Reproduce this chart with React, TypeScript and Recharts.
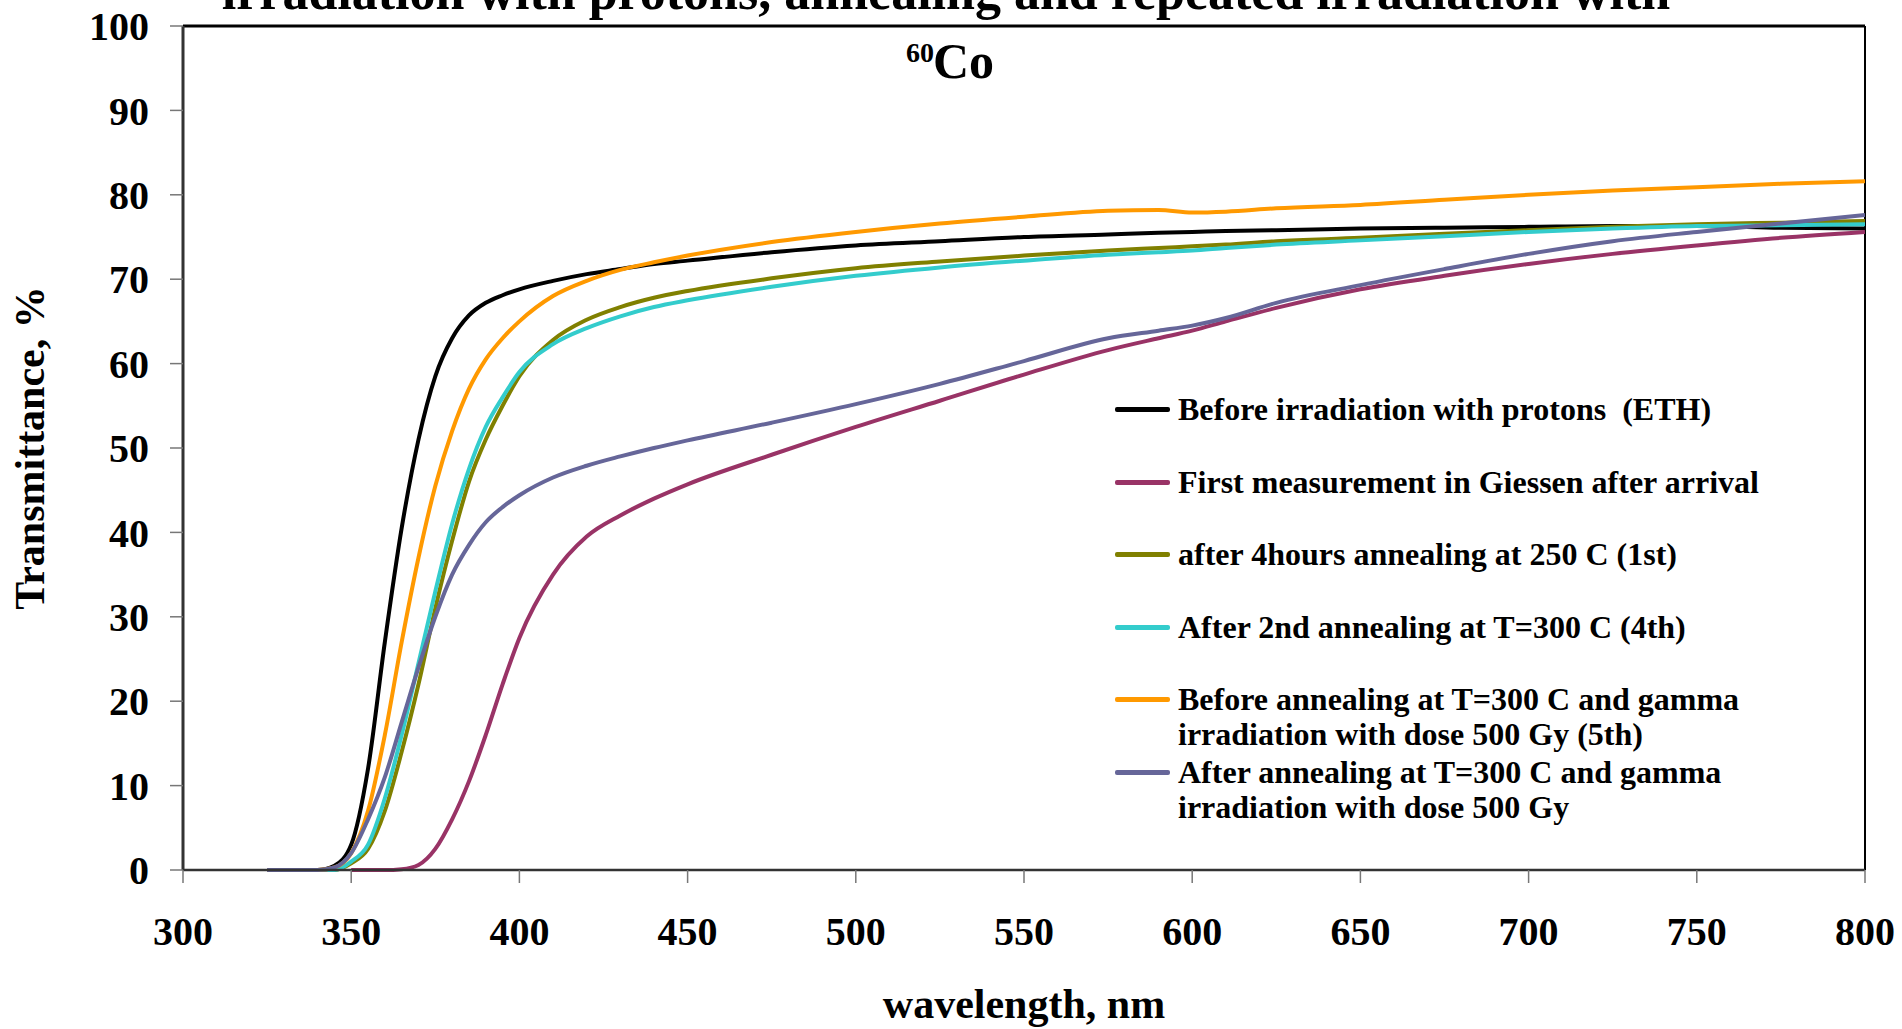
import React from "react";
import { LineChart, Line, XAxis, YAxis, Legend, ReferenceLine } from "recharts";

// wavelength grid, nm
const wavelengths = [
  325, 340, 345, 350, 355, 360, 365, 370, 375, 380, 385, 390, 395, 400, 410,
  420, 430, 440, 450, 475, 500, 525, 550, 575, 590, 600, 610, 625, 650, 675,
  700, 725, 750, 775, 800,
];

// transmittance, %
const beforeProtons = [
  0, 0, 0.5, 3, 12, 27, 40.5, 51, 58.5, 63, 65.7, 67.2, 68.1, 68.8, 69.8,
  70.6, 71.2, 71.8, 72.2, 73.2, 74, 74.5, 75, 75.3, 75.5, 75.6, 75.7, 75.8, 76,
  76.1, 76.2, 76.3, 76.3, 76.1, 76.0,
];
const firstGiessen = [
  null, null, null, 0, 0, 0, 0.1, 0.6, 2.5, 6, 10.5, 16, 22, 27.5, 35, 39.5,
  42, 44, 45.7, 49.2, 52.5, 55.6, 58.7, 61.6, 63, 63.9, 65, 66.6, 68.8, 70.4,
  71.8, 73, 74, 74.9, 75.6,
];
const anneal250 = [
  0, 0, 0, 0.8, 2.5, 7, 14, 22, 31, 39, 46, 51, 55, 58.5, 62.8, 65.2, 66.7,
  67.8, 68.6, 70.1, 71.3, 72.1, 72.8, 73.4, 73.7, 73.9, 74.1, 74.5, 74.9, 75.4,
  75.8, 76.2, 76.5, 76.7, 76.9,
];
const anneal300 = [
  0, 0, 0, 1, 3, 8.5, 16, 24.5, 33, 41, 47.5, 52.5, 56, 59, 62.3, 64.2,
  65.6, 66.7, 67.5, 69.1, 70.4, 71.4, 72.2, 72.9, 73.2, 73.4, 73.7, 74.1, 74.6,
  75.1, 75.6, 76, 76.3, 76.4, 76.5,
];
const beforeGamma = [
  0, 0, 0.3, 2, 7, 16, 27, 37, 45.5, 52, 57, 60.5, 63, 65, 68, 69.8,
  71.1, 72, 72.8, 74.4, 75.6, 76.6, 77.4, 78.1, 78.2, 77.9, 78, 78.4, 78.8,
  79.4, 80, 80.5, 80.9, 81.3, 81.6,
];
const afterGamma = [
  0, 0, 0.3, 2, 6, 11, 17.5, 24, 30, 35, 38.5, 41.2, 43, 44.4, 46.5,
  47.9, 49, 50, 50.9, 53, 55.2, 57.6, 60.3, 63, 63.9, 64.5, 65.4, 67.2,
  69.3, 71.2, 73, 74.5, 75.6, 76.6, 77.6,
];

const xTicks = [300, 350, 400, 450, 500, 550, 600, 650, 700, 750, 800];
const yTicks = [0, 10, 20, 30, 40, 50, 60, 70, 80, 90, 100];

const seriesNames = [
  "Before irradiation with protons  (ETH)",
  "First measurement in Giessen after arrival",
  "after 4hours annealing at 250 C (1st)",
  "After 2nd annealing at T=300 C (4th)",
  "Before annealing at T=300 C and gamma\nirradiation with dose 500 Gy (5th)",
  "After annealing at T=300 C and gamma\nirradiation with dose 500 Gy",
];
const seriesValues = [
  beforeProtons,
  firstGiessen,
  anneal250,
  anneal300,
  beforeGamma,
  afterGamma,
];
const seriesColors = ["#000000", "#993366", "#808000", "#33CCCC", "#FF9900", "#666699"];

const FONT = "'Liberation Serif', 'Times New Roman', serif";

const series = seriesNames.map((name, k) => ({
  name,
  color: seriesColors[k],
  data: wavelengths
    .map((wl, i) => ({ wl, t: seriesValues[k][i] }))
    .filter((p) => p.t !== null),
}));

const renderLegend = (props: any) => {
  // keep the series order, not the alphabetical one
  const items = [...(props.payload || [])].sort(
    (a: any, b: any) => seriesNames.indexOf(a.value) - seriesNames.indexOf(b.value)
  );
  return (
    <div style={{ fontFamily: FONT, fontWeight: "bold", fontSize: 32, color: "#000" }}>
      {items.map((it: any) => (
        <div key={it.value} style={{ display: "flex", alignItems: "flex-start", height: 72.6 }}>
          <div style={{ width: 55, height: 5, marginTop: 15, background: it.color, borderRadius: 2 }} />
          <div style={{ marginLeft: 8, lineHeight: "35px", whiteSpace: "pre", textAlign: "left" }}>
            {it.value}
          </div>
        </div>
      ))}
    </div>
  );
};

export default function App() {
  const tickStyle = { fontSize: 40, fontWeight: "bold", fill: "#000", fontFamily: FONT };
  return (
    <div
      style={{
        position: "absolute",
        left: 0,
        top: 0,
        width: 1902,
        height: 1029,
        background: "#fff",
        overflow: "hidden",
      }}
    >
      <LineChart width={1902} height={1029} margin={{ top: 26, right: 37, bottom: 99, left: 83 }}>
        <XAxis
          dataKey="wl"
          type="number"
          domain={[300, 800]}
          ticks={xTicks}
          allowDataOverflow
          height={60}
          tickSize={13}
          tickMargin={34}
          tick={tickStyle}
          axisLine={{ stroke: "#333", strokeWidth: 2.5 }}
          tickLine={{ stroke: "#777", strokeWidth: 1.5 }}
          label={(p: any) => (
            <text
              x={p.viewBox.x + p.viewBox.width / 2}
              y={1018}
              textAnchor="middle"
              fontFamily={FONT}
              fontWeight="bold"
              fontSize={42}
              fill="#000"
            >
              wavelength, nm
            </text>
          )}
        />
        <YAxis
          type="number"
          domain={[0, 100]}
          ticks={yTicks}
          width={100}
          tickSize={13}
          tickMargin={21}
          tick={tickStyle}
          axisLine={{ stroke: "#333", strokeWidth: 3 }}
          tickLine={{ stroke: "#777", strokeWidth: 1.5 }}
          label={(p: any) => (
            <text
              x={30}
              y={p.viewBox.y + p.viewBox.height / 2}
              transform={`rotate(-90, 30, ${p.viewBox.y + p.viewBox.height / 2})`}
              textAnchor="middle"
              dominantBaseline="central"
              fontFamily={FONT}
              fontWeight="bold"
              fontSize={42}
              fill="#000"
            >
              Transmittance, %
            </text>
          )}
        />
        <ReferenceLine y={100} stroke="#000" strokeWidth={3} />
        <ReferenceLine x={800} stroke="#000" strokeWidth={2} />
        {series.map((s) => (
          <Line
            key={s.name}
            data={s.data}
            dataKey="t"
            name={s.name}
            type="monotone"
            stroke={s.color}
            strokeWidth={4}
            dot={false}
            activeDot={false}
            isAnimationActive={false}
          />
        ))}
        <Legend
          layout="vertical"
          align="center"
          verticalAlign="middle"
          content={renderLegend}
          wrapperStyle={{ left: 1115, top: 392, width: 760, height: 440 }}
        />
      </LineChart>
      <svg
        width={1902}
        height={1029}
        style={{ position: "absolute", left: 0, top: 0, pointerEvents: "none" }}
      >
        <text x={946} y={9} textAnchor="middle" fontFamily={FONT} fontWeight="bold" fontSize={52} fill="#000">
          irradiation with protons, annealing and repeated irradiation with
        </text>
        <text x={906} y={62} fontFamily={FONT} fontWeight="bold" fontSize={28} fill="#000">
          60
        </text>
        <text x={933} y={78} fontFamily={FONT} fontWeight="bold" fontSize={50} fill="#000">
          Co
        </text>
      </svg>
    </div>
  );
}
